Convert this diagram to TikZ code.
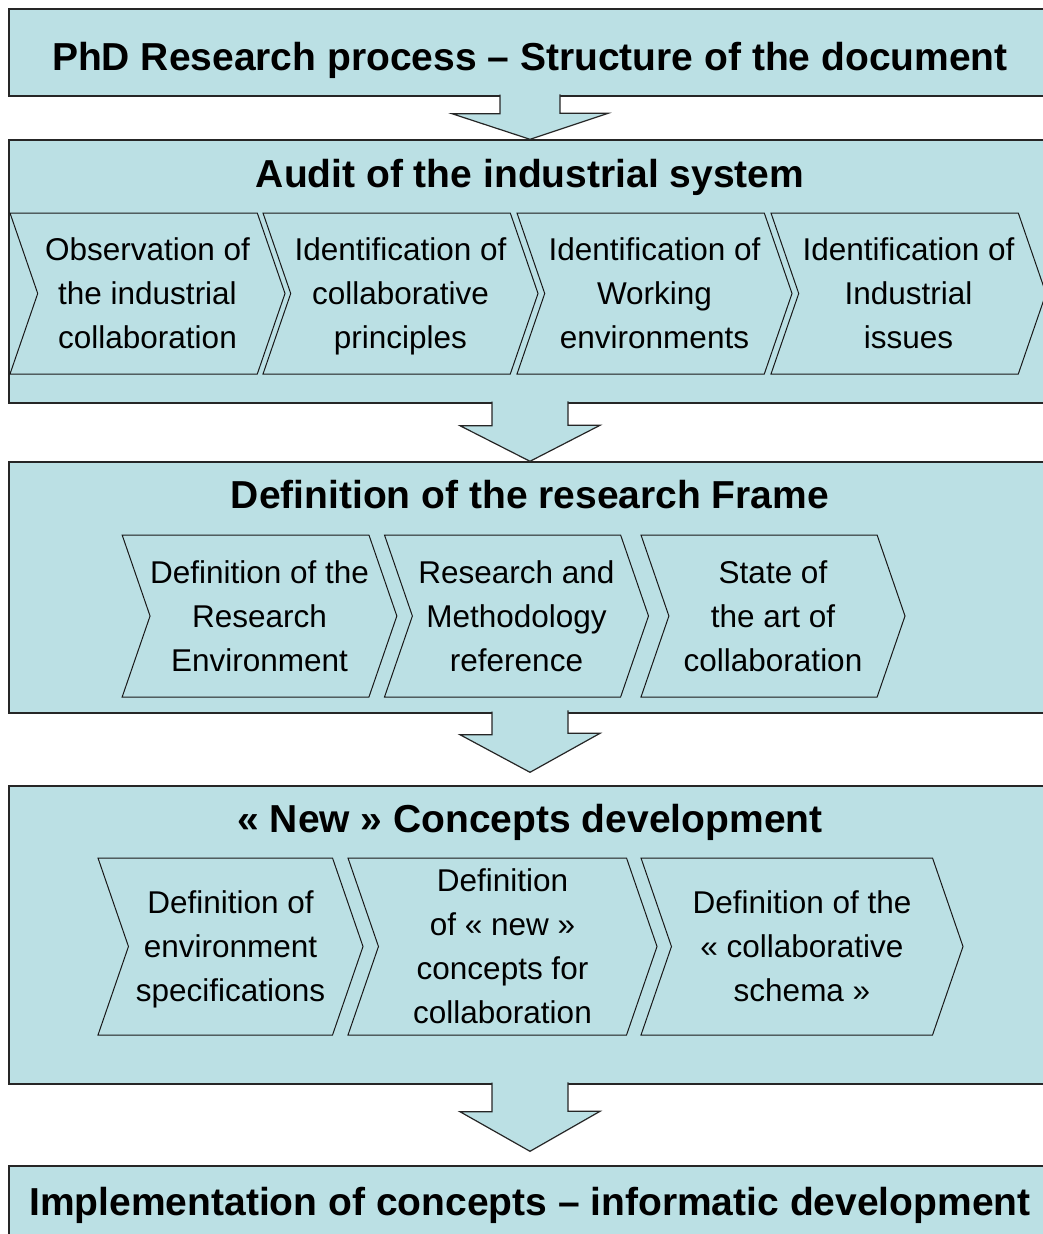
\documentclass[tikz,border=0pt]{standalone}
\usepackage{fontspec}
\setmainfont{Liberation Sans}
\usetikzlibrary{shapes.symbols}
\definecolor{boxfill}{RGB}{187,224,228}

\begin{document}
\begin{tikzpicture}[x=1pt, y=-1pt,
    box/.style={rectangle, draw=black!85, line width=1.4pt, fill=boxfill, minimum width=1042pt, inner sep=0pt},
    title/.style={font=\fontsize{39}{44}\selectfont\bfseries, anchor=base},
    chev/.style={signal, signal from=west, signal to=east, signal pointer angle=142, draw=black!90, line width=1pt, fill=boxfill, align=center, inner sep=0pt, font=\fontsize{31.5}{44}\selectfont, text depth=0pt},
    bigarrow/.style={draw=black!85, line width=1.2pt, fill=boxfill}]
    \useasboundingbox (0,0) rectangle (1043,1234);

    % the five stages
    \node[box, minimum height=87pt] (phd) at (530,52.5) {};
    \node[box, minimum height=263pt] (audit) at (530,271.5) {};
    \node[box, minimum height=251pt] (frame) at (530,587.5) {};
    \node[box, minimum height=298pt] (concepts) at (530,935) {};
    \node[box, minimum height=94pt] (impl) at (530,1213) {};

    \node[title] (phdt) at (530,70) {PhD Research process -- Structure of the document};
    \node[title] (auditt) at (530,187) {Audit of the industrial system};
    \node[title] (framet) at (530,508) {Definition of the research Frame};
    \node[title] (conceptst) at (530,832) {« New » Concepts development};
    \node[title] (implt) at (530,1215) {Implementation of concepts -- informatic development};

    % audit steps
    \node[chev, minimum width=275pt, minimum height=161pt] (obs) at (147.5,293.5) {Observation of\\the industrial\\collaboration};
    \node[chev, minimum width=275pt, minimum height=161pt] (princ) at (400.5,293.5) {Identification of\\collaborative\\principles};
    \node[chev, minimum width=275pt, minimum height=161pt] (work) at (654.5,293.5) {Identification of\\Working\\environments};
    \node[chev, minimum width=275pt, minimum height=161pt] (issues) at (908.5,293.5) {Identification of\\Industrial\\issues};

    % research frame steps
    \node[chev, minimum width=264pt, minimum height=162pt] (env) at (259.5,616) {Definition of the\\Research\\Environment};
    \node[chev, minimum width=264pt, minimum height=162pt] (meth) at (516.5,616) {Research and\\Methodology\\reference};
    \node[chev, minimum width=264pt, minimum height=162pt] (art) at (773,616) {State of\\the art of\\collaboration};

    % concepts steps
    \node[chev, minimum width=265pt, minimum height=177pt] (spec) at (230.5,946.5) {Definition of\\environment\\specifications};
    \node[chev, minimum width=309pt, minimum height=177pt] (newc) at (502.5,946.5) {Definition\\of « new »\\concepts for\\collaboration};
    \node[chev, minimum width=322pt, minimum height=177pt] (schema) at (802,946.5) {Definition of the\\« collaborative\\schema »};

    % block arrows between the stages
    \draw[bigarrow] (phd.south) ++(-30,-2) -- ++(0,19) -- ++(-48,0) -- (audit.north) -- ++(78,-26) -- ++(-48,0) -- ++(0,-19);
    \draw[bigarrow] (audit.south) ++(-38,-2) -- ++(0,24) -- ++(-32,0) -- (frame.north) -- ++(70,-36) -- ++(-32,0) -- ++(0,-24);
    \draw[bigarrow] (frame.south) ++(-38,-2) -- ++(0,23) -- ++(-32,0) -- ([yshift=13pt]concepts.north) -- ++(70,-39) -- ++(-32,0) -- ++(0,-23);
    \draw[bigarrow] (concepts.south) ++(-38,-2) -- ++(0,29) -- ++(-32,0) -- ([yshift=14pt]impl.north) -- ++(70,-40) -- ++(-32,0) -- ++(0,-29);
\end{tikzpicture}
\end{document}
